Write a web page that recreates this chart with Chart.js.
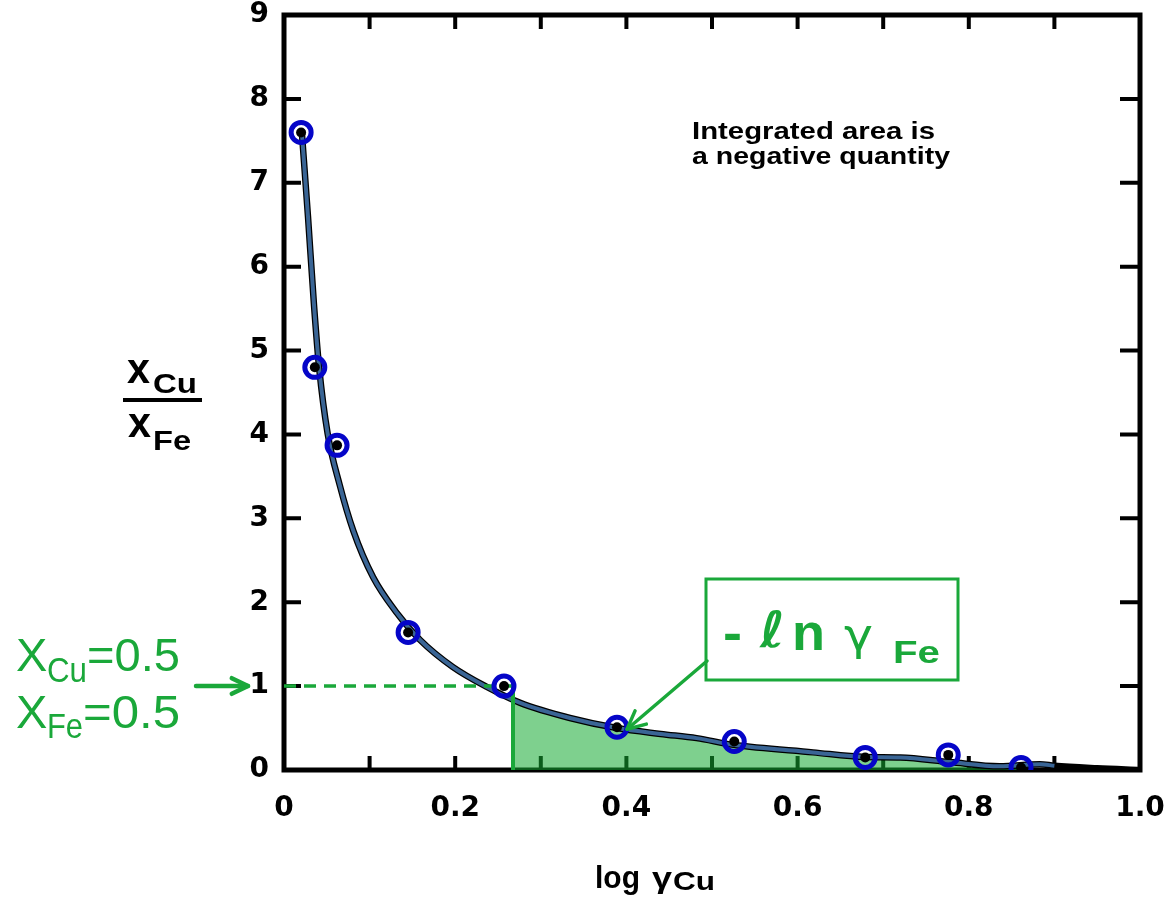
<!DOCTYPE html>
<html><head><meta charset="utf-8">
<script src="https://cdn.jsdelivr.net/npm/chart.js@4.4.1/dist/chart.umd.min.js"></script>
<style>html,body{margin:0;padding:0;background:#fff;}canvas{display:block;}</style>
</head><body>
<canvas id="c" width="1167" height="905"></canvas>
<script>
// Measured data points (log gamma_Cu, x_Cu/x_Fe)
const pointX = [0.020, 0.036, 0.062, 0.145, 0.257, 0.389, 0.526, 0.679, 0.776, 0.861];
const pointY = [7.60, 4.80, 3.87, 1.64, 1.00, 0.51, 0.34, 0.15, 0.18, 0.03];
// Smoothed curve through the data
const curveX = [0.021, 0.028, 0.035, 0.041, 0.051, 0.065, 0.081, 0.104, 0.132, 0.159, 0.197, 0.237, 0.276, 0.334, 0.389, 0.440, 0.482, 0.525, 0.618, 0.679, 0.720, 0.778, 0.836, 0.883, 0.900];
const curveY = [7.58, 6.60, 5.55, 4.80, 4.01, 3.40, 2.85, 2.30, 1.87, 1.55, 1.23, 0.99, 0.80, 0.62, 0.50, 0.43, 0.38, 0.30, 0.21, 0.155, 0.150, 0.095, 0.045, 0.070, 0.050];
// Original (black) curve continues to the axis end
const tailX = [0.950, 1.000];
const tailY = [0.020, 0.000];
// Integrated (shaded) area from x_Cu = 0.5 onwards
const areaX = [0.2675, 0.276, 0.334, 0.389, 0.440, 0.482, 0.525, 0.618, 0.679, 0.720, 0.778, 0.836, 0.865];
const areaY = [0.84, 0.80, 0.62, 0.50, 0.41, 0.35, 0.28, 0.20, 0.14, 0.13, 0.085, 0.04, 0.03];
// Equimolar reference (x_Cu = x_Fe = 0.5)
const eqX = 0.2675;
const eqY = 1;
const xMin = 0, xMax = 1, xStep = 0.1;
const yMin = 0, yMax = 9, yStep = 1;

const GREEN = '#1aa83a';
const zip = (xs, ys) => xs.map((x, i) => ({x, y: ys[i]}));
const noPad = s => { s.paddingTop = 0; s.paddingBottom = 0; s.paddingLeft = 0; s.paddingRight = 0; };

const framePlugin = {
  id: 'frame',
  beforeDatasetsDraw(chart) {
    const {ctx, chartArea: a, scales: {x, y}} = chart;
    ctx.save();
    ctx.strokeStyle = '#000';
    ctx.lineWidth = 4;
    ctx.lineCap = 'butt';
    for (let i = 1; i < 10; i++) {
      const px = x.getPixelForValue(i / 10);
      ctx.beginPath();
      ctx.moveTo(px, a.bottom); ctx.lineTo(px, a.bottom - 14);
      ctx.moveTo(px, a.top); ctx.lineTo(px, a.top + 14);
      ctx.stroke();
    }
    for (let v = 1; v < 9; v++) {
      const py = y.getPixelForValue(v);
      ctx.beginPath();
      ctx.moveTo(a.left, py); ctx.lineTo(a.left + 17, py);
      ctx.moveTo(a.right, py); ctx.lineTo(a.right - 20, py);
      ctx.stroke();
    }
    ctx.lineWidth = 5;
    ctx.strokeRect(a.left, a.top, a.right - a.left, a.bottom - a.top);
    ctx.restore();
  },
  afterDatasetsDraw(chart) {
    const {ctx, scales: {x, y}} = chart;
    const txt = (s, px, py, font, color, w) => {
      ctx.save();
      ctx.font = font; ctx.fillStyle = color;
      ctx.textAlign = 'left'; ctx.textBaseline = 'alphabetic';
      if (w) {
        const m = ctx.measureText(s).width;
        ctx.translate(px, py); ctx.scale(w / m, 1); ctx.fillText(s, 0, 0);
      } else ctx.fillText(s, px, py);
      ctx.restore();
    };
    const arrow = (x0, y0, x1, y1, head, lw) => {
      ctx.save();
      ctx.strokeStyle = GREEN; ctx.lineWidth = lw; ctx.lineCap = 'round'; ctx.lineJoin = 'round';
      ctx.beginPath(); ctx.moveTo(x0, y0); ctx.lineTo(x1, y1); ctx.stroke();
      const ang = Math.atan2(y1 - y0, x1 - x0);
      ctx.beginPath();
      ctx.moveTo(x1 - head * Math.cos(ang - 0.45), y1 - head * Math.sin(ang - 0.45));
      ctx.lineTo(x1, y1);
      ctx.lineTo(x1 - head * Math.cos(ang + 0.45), y1 - head * Math.sin(ang + 0.45));
      ctx.stroke();
      ctx.restore();
    };
    const F = '"Liberation Sans", Arial, sans-serif';
    // Note text
    txt('Integrated area is', 692, 139, 'bold 23px ' + F, '#000', 243);
    txt('a negative quantity', 692, 164, 'bold 23px ' + F, '#000', 258);
    // Y-axis title as a fraction
    txt('x', 127, 383, 'bold 42px ' + F, '#000', 23);
    txt('Cu', 153, 393, 'bold 28px ' + F, '#000', 44);
    ctx.save(); ctx.fillStyle = '#000'; ctx.fillRect(123, 398, 79, 4); ctx.restore();
    txt('x', 128, 437, 'bold 42px ' + F, '#000', 23);
    txt('Fe', 153, 450, 'bold 28px ' + F, '#000', 38);
    // X-axis title
    txt('log', 595, 888, 'bold 32px ' + F, '#000', 45);
    txt('\u03b3', 652, 888, 'bold 30px ' + F, '#000', 20);
    txt('Cu', 673, 890, 'bold 25px ' + F, '#000', 42);
    // Left equimolar labels
    txt('X', 16, 671, '47px ' + F, GREEN);
    txt('Cu', 47, 682, '35px ' + F, GREEN, 40);
    txt('=0.5', 87, 671, '47px ' + F, GREEN, 93);
    txt('X', 16, 728, '47px ' + F, GREEN);
    txt('Fe', 47, 738, '35px ' + F, GREEN, 36);
    txt('=0.5', 83, 728, '47px ' + F, GREEN, 97);
    arrow(196, 686, 248, 686, 18, 4.5);
    // Box annotation
    ctx.save();
    ctx.strokeStyle = GREEN; ctx.lineWidth = 3;
    ctx.strokeRect(706, 579, 252, 101);
    ctx.restore();
    txt('-', 723, 650, 'bold 52px ' + F, GREEN, 19);
    txt('\u2113', 760, 647, 'italic bold 50px "DejaVu Sans", sans-serif', GREEN, 25);
    txt('n', 792, 650, 'bold 52px ' + F, GREEN, 33);
    txt('\u03b3', 844, 650, '44px "DejaVu Sans", sans-serif', GREEN, 29);
    txt('Fe', 893, 663, 'bold 31px ' + F, GREEN, 47);
    // Arrow from box to the curve
    arrow(707, 661, x.getPixelForValue(pointX[5]) + 10, y.getPixelForValue(pointY[5]) + 2, 20, 3.5);
  }
};

const TICK_FONT = {family: '"DejaVu Sans", sans-serif', weight: 'bold', size: 28};

new Chart(document.getElementById('c'), {
  type: 'scatter',
  data: {
    datasets: [
      { // measured points (blue rings)
        data: zip(pointX, pointY), order: 0, showLine: false,
        pointRadius: 10, pointBorderWidth: 5, pointBorderColor: '#0505c8',
        pointBackgroundColor: 'rgba(0,0,0,0)'
      },
      { // original black markers
        data: zip(pointX, pointY), order: 1, showLine: false,
        pointRadius: 5, pointBorderWidth: 0, pointBackgroundColor: '#000'
      },
      { // dashed equimolar line
        data: [{x: xMin, y: eqY}, {x: eqX, y: eqY}], order: 2, showLine: true,
        borderColor: GREEN, borderWidth: 3.5, borderDash: [12, 8], pointRadius: 0
      },
      { // vertical start of integration
        data: [{x: eqX, y: 0}, {x: eqX, y: 1.04}], order: 3, showLine: true,
        borderColor: GREEN, borderWidth: 4, pointRadius: 0
      },
      { // blue fitted curve
        data: zip(curveX, curveY), order: 4, showLine: true,
        borderColor: '#3a6595', borderWidth: 4, pointRadius: 0,
        cubicInterpolationMode: 'monotone'
      },
      { // black original curve underneath
        data: zip(curveX.concat(tailX), curveY.concat(tailY)), order: 5, showLine: true,
        borderColor: '#000', borderWidth: 6.5, pointRadius: 0,
        cubicInterpolationMode: 'monotone'
      },
      { // integrated area
        data: zip(areaX, areaY), order: 6, showLine: true,
        borderWidth: 0, borderColor: 'rgba(0,0,0,0)', pointRadius: 0,
        fill: 'origin', backgroundColor: 'rgba(20,170,50,0.55)',
        cubicInterpolationMode: 'monotone'
      }
    ]
  },
  options: {
    animation: false, responsive: false, devicePixelRatio: 1,
    layout: {padding: {top: 15, right: 27, left: 0, bottom: 0}},
    plugins: {legend: {display: false}, tooltip: {enabled: false}},
    scales: {
      x: {
        type: 'linear', min: xMin, max: xMax,
        afterFit(s) { s.height = 135; noPad(s); },
        grid: {display: false, drawTicks: false}, border: {display: false},
        ticks: {
          stepSize: xStep, autoSkip: false, maxRotation: 0, padding: 22, color: '#000',
          font: TICK_FONT,
          callback(v) { const r = Math.round(v * 10); if (r % 2) return ''; return r === 0 ? '0' : (r / 10).toFixed(1); }
        }
      },
      y: {
        type: 'linear', min: yMin, max: yMax,
        afterFit(s) { s.width = 284; noPad(s); },
        grid: {display: false, drawTicks: false}, border: {display: false},
        ticks: {
          stepSize: yStep, padding: 15, color: '#000',
          font: TICK_FONT
        }
      }
    }
  },
  plugins: [framePlugin]
});
</script>
</body></html>
